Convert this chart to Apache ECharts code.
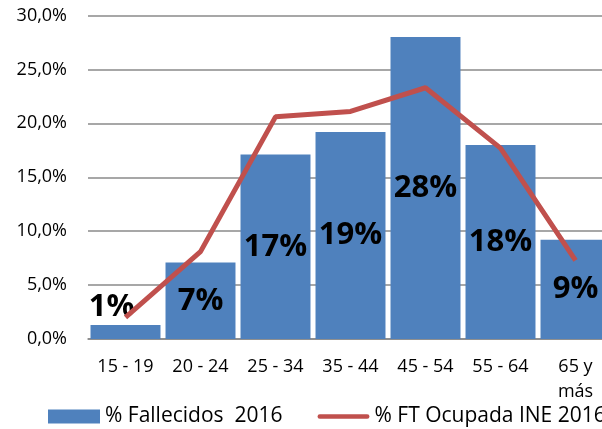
<!DOCTYPE html>
<html>
<head>
<meta charset="utf-8">
<script src="https://cdn.jsdelivr.net/npm/echarts@6/dist/echarts.min.js"></script>
<style>
  html, body { margin: 0; padding: 0; background: #fff; }
  #chart { width: 602px; height: 429px; }
</style>
</head>
<body>
<div id="chart"></div>
<script>
const categories = ['15 - 19', '20 - 24', '25 - 34', '35 - 44', '45 - 54', '55 - 64', '65 y\nmás']
const fallecidos = [1.3, 7.1, 17.1, 19.2, 28.0, 18.0, 9.2]
const ocupada = [2.0, 8.1, 20.6, 21.1, 23.3, 17.7, 7.3]
const yTicks = [0, 5, 10, 15, 20, 25, 30]

const FONT = '"Open Sans", "Liberation Sans", sans-serif'

const chart = echarts.init(document.getElementById('chart'))
chart.setOption({
  animation: false,
  grid: {
    left: 88,
    top: 15.5,
    right: -11,
    bottom: 90,
    outerBoundsMode: 'none',
    containLabel: false
  },
  legend: {
    left: 43,
    top: 406,
    width: 800,
    padding: [0, 5],
    itemGap: 35,
    itemWidth: 52,
    itemHeight: 14,
    symbolKeepAspect: true,
    textStyle: { fontFamily: FONT, fontSize: 21, color: '#000' },
    data: [
      { name: '% Fallecidos  2016', icon: 'rect' },
      {
        name: '% FT Ocupada INE 2016',
        icon: 'path://M2,0 L52,0 A2.5,2.5 0 0 1 52,5 L2,5 A2.5,2.5 0 0 1 2,0 Z',
        itemStyle: { color: '#C0504D' }
      }
    ]
  },
  xAxis: {
    type: 'category',
    data: categories,
    axisTick: { show: false },
    axisLine: { lineStyle: { color: '#888', width: 1.5 } },
    axisLabel: {
      fontFamily: FONT,
      fontSize: 18,
      color: '#000',
      margin: 15,
      lineHeight: 25,
      interval: 0
    }
  },
  yAxis: {
    type: 'value',
    min: yTicks[0],
    max: yTicks[yTicks.length - 1],
    interval: 5,
    axisLine: { show: false },
    axisTick: { show: false },
    splitLine: { lineStyle: { color: '#8a8a8a', width: 1.5 } },
    axisLabel: {
      fontFamily: FONT,
      fontSize: 18,
      color: '#000',
      margin: 21,
      formatter: v => v.toFixed(1).replace('.', ',') + '%'
    }
  },
  series: [
    {
      name: '% Fallecidos  2016',
      type: 'bar',
      barCategoryGap: '6.7%',
      itemStyle: { color: '#4F81BD' },
      label: {
        show: true,
        position: 'inside',
        fontFamily: FONT,
        fontSize: 31,
        fontWeight: 'bold',
        color: '#000',
        formatter: p => Math.round(p.value) + '%'
      },
      data: fallecidos.map((v, i) => i === 0
        ? { value: v, label: { position: 'top', distance: 2, offset: [-14, 0] } }
        : v)
    },
    {
      name: '% FT Ocupada INE 2016',
      type: 'line',
      symbol: 'none',
      z: 5,
      lineStyle: { color: '#C0504D', width: 5 },
      itemStyle: { color: '#C0504D' },
      data: ocupada
    }
  ]
})
</script>
</body>
</html>
